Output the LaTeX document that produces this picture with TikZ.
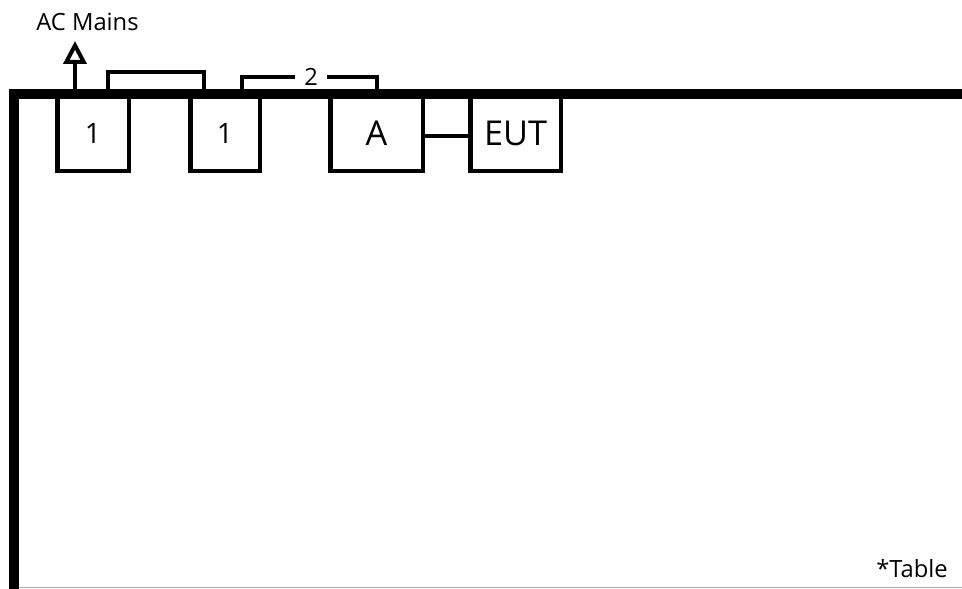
\documentclass[tikz,border=0pt]{standalone}
\usepackage{fontspec}
\setmainfont{Open Sans}
\usepackage{xcolor}
\definecolor{lineDark}{HTML}{000000}
\definecolor{edgeGray}{HTML}{A8A8A8}
\usepackage{tikz}
\usetikzlibrary{positioning,calc,arrows.meta}
\tikzset{%
  unitBox/.style={%
    rectangle,
    draw=lineDark,
    fill=white,
    line width=0.09cm,
    inner sep=0pt,
    outer sep=0pt,
    minimum height=1.52cm,
    font=\fontsize{16pt}{18pt}\selectfont,
    align=center
  },
  bigBox/.style={%
    unitBox,
    font=\fontsize{19.5pt}{22pt}\selectfont
  },
  tableEdge/.style={%
    line width=0.2cm,
    color=lineDark,
    line join=miter
  },
  cableLine/.style={%
    line width=0.08cm,
    color=lineDark
  },
  mainsArrow/.style={%
    -{Triangle[open,length=0.46cm,width=0.46cm,line width=0.08cm]},
    line width=0.08cm,
    color=lineDark
  },
  labelText/.style={%
    inner sep=0pt,
    font=\fontsize{13.5pt}{15pt}\selectfont
  }
}

\begin{document}
\begin{tikzpicture}
            \useasboundingbox (0,0) rectangle (19.24,-11.78);

            % Units sitting on the table edge
            \node[unitBox, minimum width=1.43cm] (unitOne) at (1.86,-2.66) {1};
            \node[unitBox, minimum width=1.39cm, right=1.23cm of unitOne] (unitTwo) {1};
            \node[bigBox, minimum width=1.85cm, right=1.41cm of unitTwo] (unitA) {A};
            \node[bigBox, minimum width=1.81cm, right=0.95cm of unitA] (unitEUT) {EUT};

            % Table edges
            \draw[tableEdge] (0.28,-11.78) -- (0.28,-1.88) -- (19.24,-1.88);
            \draw[edgeGray, line width=0.6pt] (0.38,-11.75) -- (19.24,-11.75);
            \node[labelText, anchor=south east] (tableNote) at (18.96,-11.56) {*Table};

            % Mains lead
            \draw[mainsArrow] ([xshift=-0.36cm]unitOne.north) -- ++(0,1.08) coordinate (mainsEnd);
            \node[labelText, above=0.2cm of mainsEnd, xshift=0.25cm] (acMains) {AC Mains};

            % Cables
            \draw[cableLine] ([xshift=0.3cm]unitOne.north) -- ++(0,0.46)
                -| ([xshift=-0.42cm]unitTwo.north);
            \draw[cableLine] ([xshift=0.34cm]unitTwo.north) -- ++(0,0.36)
                -| node[pos=0.257, labelText, fill=white, inner xsep=0.18cm] (cableTwo) {2} (unitA.north);
            \draw[cableLine] ([yshift=-0.07cm]unitA.east) -- ([yshift=-0.07cm]unitEUT.west);
        \end{tikzpicture}
\end{document}
